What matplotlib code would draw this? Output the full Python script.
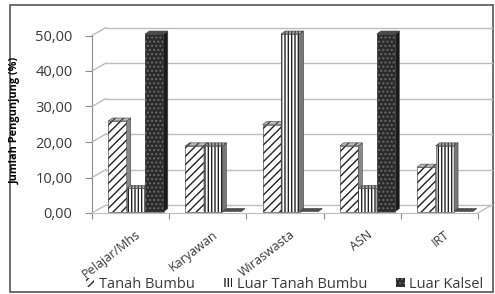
import numpy as np
import matplotlib.pyplot as plt
from matplotlib.patches import Polygon, Rectangle, Patch

# Data
categories = ['Pelajar/Mhs', 'Karyawan', 'Wiraswasta', 'ASN', 'IRT']
series = ['Tanah Bumbu', 'Luar Tanah Bumbu', 'Luar Kalsel']
tanah_bumbu = [25.5, 18.5, 24.5, 18.5, 12.5]
luar_tanah_bumbu = [6.5, 18.5, 50.0, 6.5, 18.5]
luar_kalsel = [50.0, 0.0, 0.0, 50.0, 0.0]
yticks = [0, 10, 20, 30, 40, 50]

plt.rcParams['font.family'] = ['Open Sans', 'DejaVu Sans']

W, H = 495, 294
fig = plt.figure(figsize=(W / 100, H / 100), dpi=100)

# front plane of the pseudo-3D chart, in pixels
x0, x1, y0, y1 = 92, 478, 213, 35.5
ax = fig.add_axes([x0 / W, 1 - y0 / H, (x1 - x0) / W, (y0 - y1) / H])
ax.set_xlim(0, len(categories))
ax.set_ylim(0, 50)
ax.patch.set_visible(False)

xpp = len(categories) / (x1 - x0)
ypp = 50 / (y0 - y1)

grid_c = '#bdbdbd'
axis_c = '#8c8c8c'
# back wall offset
bdx, bdy = 14 * xpp, 8 * ypp
for y in yticks:
    ax.plot([0, bdx], [y, y + bdy], color=grid_c, lw=1, clip_on=False, zorder=1)
    ax.plot([bdx, len(categories) + bdx], [y + bdy, y + bdy], color=grid_c, lw=1,
            clip_on=False, zorder=1)
# floor right edge
ax.plot([len(categories), len(categories) + bdx], [0, bdy], color=grid_c, lw=1,
        clip_on=False, zorder=1)

for s in ['top', 'right']:
    ax.spines[s].set_visible(False)
ax.spines['left'].set_color(axis_c)
ax.spines['bottom'].set_color(grid_c)
ax.spines['left'].set_zorder(0.5)
ax.set_yticks(yticks)
ax.set_yticklabels(['%d,00' % v for v in yticks], fontsize=10.5, color='#3a3a3a')
ax.set_xticks(range(len(categories) + 1))
ax.set_xticklabels([])
ax.tick_params(axis='y', direction='out', length=5, color=axis_c, pad=9)
ax.tick_params(axis='x', direction='out', length=4, color=axis_c)

for i, c in enumerate(categories):
    ax.text(i + 0.56, -4.2, c, rotation=38, ha='right', va='top', fontsize=9,
            color='#3a3a3a', rotation_mode='anchor')

ax.set_ylabel('Jumlah Pengunjung (%)', fontsize=7.8, fontweight='bold')
ax.yaxis.set_label_coords((21 - x0) / (x1 - x0), 0.52)

# bar styles
styles = [
    dict(fc='white', hatch='////', ec='#222222', side='#888888', top='#bbbbbb'),
    dict(fc='white', hatch='|||||', ec='#222222', side='#777777', top='#aaaaaa'),
    dict(fc='#2a2a2a', hatch='....', ec='#6a6a6a', side='#1a1a1a', top='#505050'),
]
values = [tanah_bumbu, luar_tanah_bumbu, luar_kalsel]

bw = 0.24
off = 0.07
ddx, ddy = 4 * xpp, 3 * ypp
base = 1.5 * ypp
for i in range(len(categories)):
    for k in range(3):
        v = values[k][i]
        st = styles[k]
        left = i + 0.5 + off + (k - 1.5) * bw
        bot = base
        top = v + base
        z = 3 + k
        if v > 0:
            ax.add_patch(Rectangle((left, bot), bw, v, facecolor=st['fc'],
                                   hatch=st['hatch'], edgecolor=st['ec'], lw=0,
                                   zorder=z, clip_on=False))
            ax.add_patch(Rectangle((left, bot), bw, v, facecolor='none',
                                   edgecolor='#555555', lw=0.5, zorder=z,
                                   clip_on=False))
        ax.add_patch(Polygon([(left + bw, bot), (left + bw + ddx, bot + ddy),
                              (left + bw + ddx, top + ddy), (left + bw, top)],
                             closed=True, facecolor=st['side'], edgecolor='#444444',
                             lw=0.4, zorder=z, clip_on=False))
        ax.add_patch(Polygon([(left, top), (left + ddx, top + ddy),
                              (left + bw + ddx, top + ddy), (left + bw, top)],
                             closed=True, facecolor=st['top'], hatch=st['hatch'],
                             edgecolor='#444444', lw=0.4, zorder=z, clip_on=False))

# legend
handles = [Patch(facecolor=s['fc'], hatch=s['hatch'], edgecolor=s['ec'], lw=0)
           for s in styles]
fig.legend(handles, series, loc='center', bbox_to_anchor=(0.575, 1 - 284 / H),
           ncol=3, frameon=False, fontsize=10.5, handlelength=0.6, handleheight=0.6,
           handletextpad=0.3, columnspacing=2.0, labelcolor='#3a3a3a')

# outer frame
fr = fig.add_axes([0, 0, 1, 1], zorder=-1)
fr.set_xlim(0, W)
fr.set_ylim(H, 0)
fr.axis('off')
fr.add_patch(Rectangle((10, 5), W - 12, 287, facecolor='white', edgecolor='#555555', lw=1.2))

fig.savefig('out.png', dpi=100)
